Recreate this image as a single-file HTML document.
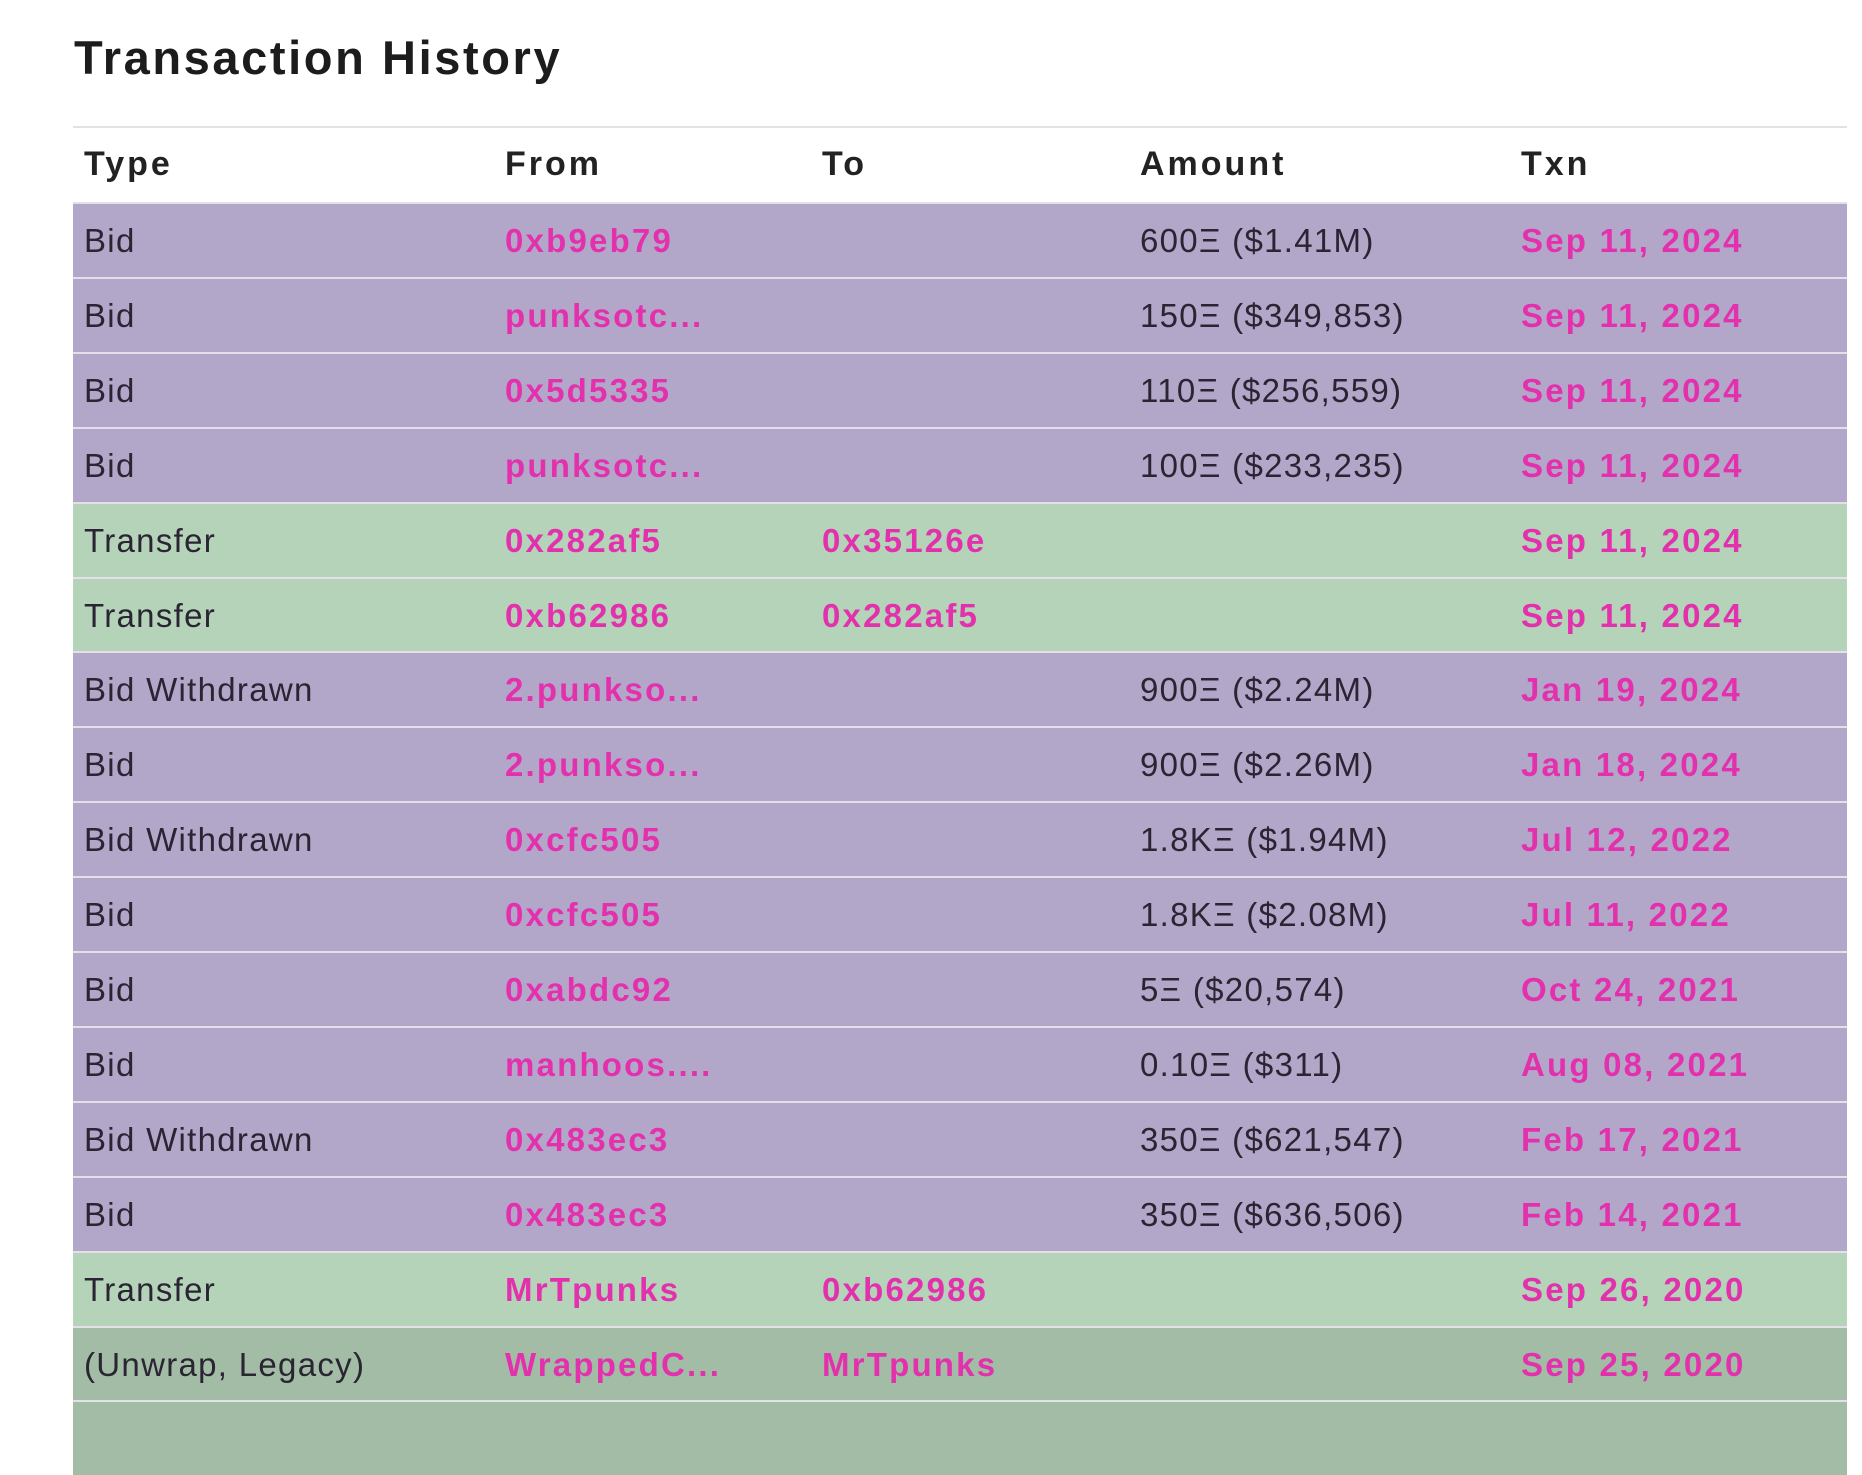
<!DOCTYPE html>
<html><head><meta charset="utf-8"><style>
body{margin:0;width:1862px;height:1412px;background:#fff;overflow:hidden;font-family:"Liberation Sans",sans-serif;position:relative}
h1{position:absolute;left:74px;top:30px;margin:0;font-size:47px;font-weight:bold;color:#1c1c1c;letter-spacing:2.6px}
.topline{position:absolute;left:73px;top:126px;width:1774px;height:2px;background:#e2e2e2}
.hdr{position:absolute;top:145px;font-size:34px;font-weight:bold;color:#222;letter-spacing:3px}
.row{position:absolute;left:73px;width:1774px;height:73px;border-top:2px solid #e4e0ea}
.row span{position:absolute;top:18px;font-size:33px;color:#2a2433;white-space:nowrap;letter-spacing:1.3px}
.row .p{color:#e331ad;font-weight:bold;letter-spacing:2.2px}
.pu{background:#b3a7c9}.gr{background:#b4d3b9}.dg{background:#a3bca6}
</style></head><body>
<h1>Transaction History</h1>
<div class="topline"></div>
<div class="hdr" style="left:84px">Type</div>
<div class="hdr" style="left:505px">From</div>
<div class="hdr" style="left:822px">To</div>
<div class="hdr" style="left:1140px">Amount</div>
<div class="hdr" style="left:1521px">Txn</div>
<div id="rows"></div>
<script>
var d=[
["pu","Bid","0xb9eb79","","600Ξ ($1.41M)","Sep 11, 2024"],
["pu","Bid","punksotc...","","150Ξ ($349,853)","Sep 11, 2024"],
["pu","Bid","0x5d5335","","110Ξ ($256,559)","Sep 11, 2024"],
["pu","Bid","punksotc...","","100Ξ ($233,235)","Sep 11, 2024"],
["gr","Transfer","0x282af5","0x35126e","","Sep 11, 2024"],
["gr","Transfer","0xb62986","0x282af5","","Sep 11, 2024"],
["pu","Bid Withdrawn","2.punkso...","","900Ξ ($2.24M)","Jan 19, 2024"],
["pu","Bid","2.punkso...","","900Ξ ($2.26M)","Jan 18, 2024"],
["pu","Bid Withdrawn","0xcfc505","","1.8KΞ ($1.94M)","Jul 12, 2022"],
["pu","Bid","0xcfc505","","1.8KΞ ($2.08M)","Jul 11, 2022"],
["pu","Bid","0xabdc92","","5Ξ ($20,574)","Oct 24, 2021"],
["pu","Bid","manhoos....","","0.10Ξ ($311)","Aug 08, 2021"],
["pu","Bid Withdrawn","0x483ec3","","350Ξ ($621,547)","Feb 17, 2021"],
["pu","Bid","0x483ec3","","350Ξ ($636,506)","Feb 14, 2021"],
["gr","Transfer","MrTpunks","0xb62986","","Sep 26, 2020"],
["dg","(Unwrap, Legacy)","WrappedC...","MrTpunks","","Sep 25, 2020"],
["dg","","","","",""]];
var h="";
d.forEach(function(r,i){var t=202+i*74.9;
h+='<div class="row '+r[0]+'" style="top:'+t+'px"><span style="left:11px">'+r[1]+'</span><span class="p" style="left:432px">'+r[2]+'</span><span class="p" style="left:749px">'+r[3]+'</span><span style="left:1067px">'+r[4]+'</span><span class="p" style="left:1448px">'+r[5]+'</span></div>';});
document.getElementById("rows").innerHTML=h;
</script>
</body></html>
